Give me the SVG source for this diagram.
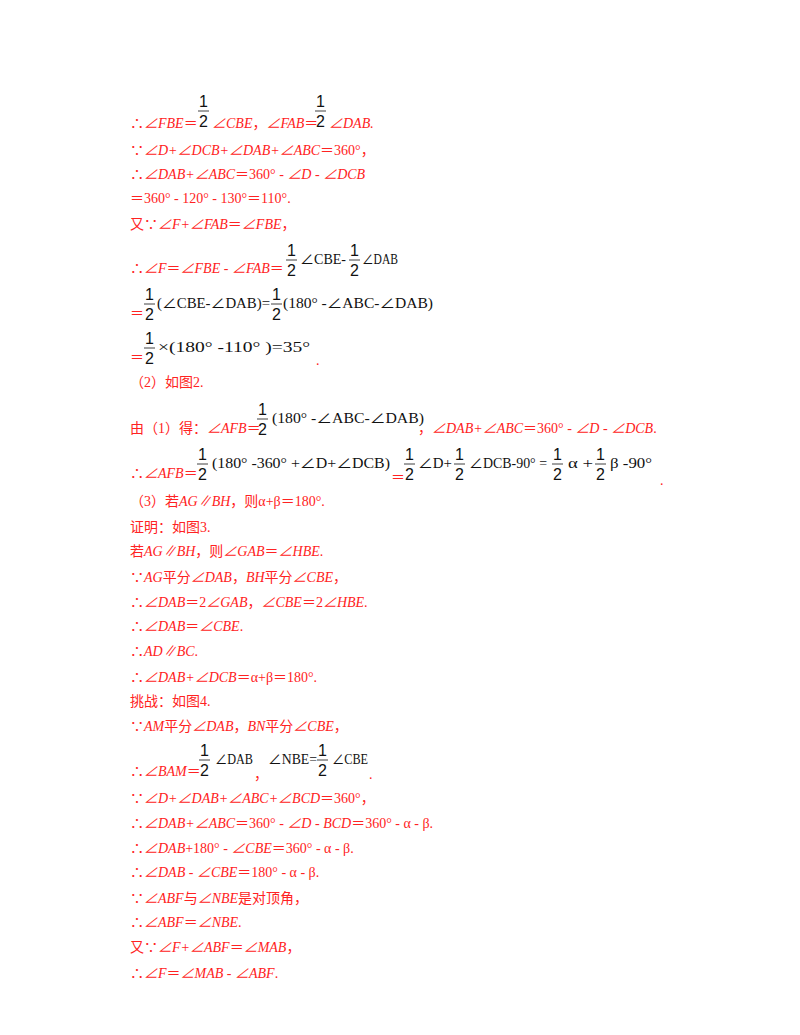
<svg xmlns="http://www.w3.org/2000/svg" width="800" height="1035" viewBox="0 0 800 1035">
<style>
.r{fill:#f22;font-family:"Liberation Serif","Noto Sans CJK SC",serif;font-size:14px}
.i{font-style:italic}
.b{fill:#111;font-family:"Liberation Serif","Noto Sans CJK SC",serif;font-size:14px}
.f{fill:#111;font-family:"Liberation Sans",sans-serif;font-size:16px}
.bar{stroke:#111;stroke-width:0.8}
</style>
<rect width="800" height="1035" fill="#fff"/>
<defs>
<g id="h"><text class="f" x="0" y="0">1</text><line class="bar" x1="-1" y1="4" x2="10" y2="4"/><text class="f" x="0" y="20">2</text></g>
</defs>
<g id="content">
<text class="r" x="130" y="128">∴<tspan class="i">∠FBE</tspan>＝</text><use href="#h" x="199" y="107"/><text class="r" x="212" y="128"><tspan class="i">∠CBE</tspan>，<tspan class="i">∠FAB</tspan>＝</text><use href="#h" x="316" y="107"/><text class="r i" x="329" y="128">∠DAB.</text>
<text class="r" x="130" y="155">∵<tspan class="i">∠D+∠DCB+∠DAB+∠ABC</tspan>＝360°，</text>
<text class="r" x="130" y="179">∴<tspan class="i">∠DAB+∠ABC</tspan>＝360° - <tspan class="i">∠D</tspan> - <tspan class="i">∠DCB</tspan></text>
<text class="r" x="130" y="203">＝360° - 120° - 130°＝110°.</text>
<text class="r" x="130" y="229">又∵<tspan class="i">∠F+∠FAB</tspan>＝<tspan class="i">∠FBE</tspan>，</text>

<text class="r" x="130" y="273">∴<tspan class="i">∠F</tspan>＝<tspan class="i">∠FBE</tspan> - <tspan class="i">∠FAB</tspan>＝</text><use href="#h" x="287" y="256"/><text class="b" x="300" y="264" textLength="46" lengthAdjust="spacingAndGlyphs">∠CBE-</text><use href="#h" x="350" y="256"/><text class="b" x="362" y="264" textLength="36" lengthAdjust="spacingAndGlyphs">∠DAB</text>
<text class="r" x="130" y="318">＝</text><use href="#h" x="145" y="300"/><text class="b" x="157" y="308" textLength="113" lengthAdjust="spacingAndGlyphs">(∠CBE-∠DAB)=</text><use href="#h" x="272" y="300"/><text class="b" x="283" y="308" textLength="150" lengthAdjust="spacingAndGlyphs">(180° -∠ABC-∠DAB)</text>
<text class="r" x="130" y="362">＝</text><use href="#h" x="145" y="344"/><text class="b" x="158" y="352" textLength="152" lengthAdjust="spacingAndGlyphs">×(180° -110° )=35°</text><text class="r" x="316" y="365">.</text>
<text class="r" x="130" y="387">（2）如图2.</text>

<text class="r" x="130" y="433">由（1）得：<tspan class="i">∠AFB</tspan>＝</text><use href="#h" x="258" y="415"/><text class="b" x="272" y="423" textLength="152" lengthAdjust="spacingAndGlyphs">(180° -∠ABC-∠DAB)</text><text class="r" x="418" y="433">，<tspan class="i">∠DAB+∠ABC</tspan>＝360° - <tspan class="i">∠D</tspan> - <tspan class="i">∠DCB</tspan>.</text>
<text class="r" x="130" y="478">∴<tspan class="i">∠AFB</tspan>＝</text><use href="#h" x="198" y="460"/><text class="b" x="212" y="468" textLength="178" lengthAdjust="spacingAndGlyphs">(180° -360° +∠D+∠DCB)</text><text class="r" x="391" y="482">＝</text><use href="#h" x="405" y="460"/><text class="b" x="418" y="468" textLength="34" lengthAdjust="spacingAndGlyphs">∠D+</text><use href="#h" x="455" y="460"/><text class="b" x="469" y="468" textLength="78" lengthAdjust="spacingAndGlyphs">∠DCB-90° =</text><use href="#h" x="553" y="460"/><text class="b" x="568" y="468" textLength="25" lengthAdjust="spacingAndGlyphs">α +</text><use href="#h" x="596" y="460"/><text class="b" x="610" y="468" textLength="42" lengthAdjust="spacingAndGlyphs">β -90°</text><text class="r" x="660" y="485">.</text>
<text class="r" x="130" y="506">（3）若<tspan class="i">AG∥BH</tspan>，则α+β＝180°.</text>
<text class="r" x="130" y="532">证明：如图3.</text>
<text class="r" x="130" y="556">若<tspan class="i">AG∥BH</tspan>，则<tspan class="i">∠GAB</tspan>＝<tspan class="i">∠HBE</tspan>.</text>
<text class="r" x="130" y="582">∵<tspan class="i">AG</tspan>平分<tspan class="i">∠DAB</tspan>，<tspan class="i">BH</tspan>平分<tspan class="i">∠CBE</tspan>，</text>
<text class="r" x="130" y="607">∴<tspan class="i">∠DAB</tspan>＝2<tspan class="i">∠GAB</tspan>，<tspan class="i">∠CBE</tspan>＝2<tspan class="i">∠HBE</tspan>.</text>
<text class="r" x="130" y="631">∴<tspan class="i">∠DAB</tspan>＝<tspan class="i">∠CBE</tspan>.</text>
<text class="r" x="130" y="656">∴<tspan class="i">AD∥BC</tspan>.</text>
<text class="r" x="130" y="682">∴<tspan class="i">∠DAB+∠DCB</tspan>＝α+β＝180°.</text>
<text class="r" x="130" y="706">挑战：如图4.</text>
<text class="r" x="130" y="731">∵<tspan class="i">AM</tspan>平分<tspan class="i">∠DAB</tspan>，<tspan class="i">BN</tspan>平分<tspan class="i">∠CBE</tspan>，</text>
<text class="r" x="130" y="776">∴<tspan class="i">∠BAM</tspan>＝</text><use href="#h" x="200" y="756"/><text class="b" x="215" y="764" textLength="38" lengthAdjust="spacingAndGlyphs">∠DAB</text><text class="r" x="254" y="779">，</text><text class="b" x="268" y="764" textLength="49" lengthAdjust="spacingAndGlyphs">∠NBE=</text><use href="#h" x="318" y="756"/><text class="b" x="332" y="764" textLength="36" lengthAdjust="spacingAndGlyphs">∠CBE</text><text class="r" x="369" y="779">.</text>
<text class="r" x="130" y="803">∵<tspan class="i">∠D+∠DAB+∠ABC+∠BCD</tspan>＝360°，</text>
<text class="r" x="130" y="828">∴<tspan class="i">∠DAB+∠ABC</tspan>＝360° - <tspan class="i">∠D</tspan> - <tspan class="i">BCD</tspan>＝360° - α - β.</text>
<text class="r" x="130" y="853">∴<tspan class="i">∠DAB</tspan>+180° - <tspan class="i">∠CBE</tspan>＝360° - α - β.</text>
<text class="r" x="130" y="877">∴<tspan class="i">∠DAB</tspan> - <tspan class="i">∠CBE</tspan>＝180° - α - β.</text>
<text class="r" x="130" y="903">∵<tspan class="i">∠ABF</tspan>与<tspan class="i">∠NBE</tspan>是对顶角，</text>
<text class="r" x="130" y="927">∴<tspan class="i">∠ABF</tspan>＝<tspan class="i">∠NBE</tspan>.</text>
<text class="r" x="130" y="952">又∵<tspan class="i">∠F+∠ABF</tspan>＝<tspan class="i">∠MAB</tspan>，</text>
<text class="r" x="130" y="978">∴<tspan class="i">∠F</tspan>＝<tspan class="i">∠MAB</tspan> - <tspan class="i">∠ABF</tspan>.</text>
</g>
</svg>
